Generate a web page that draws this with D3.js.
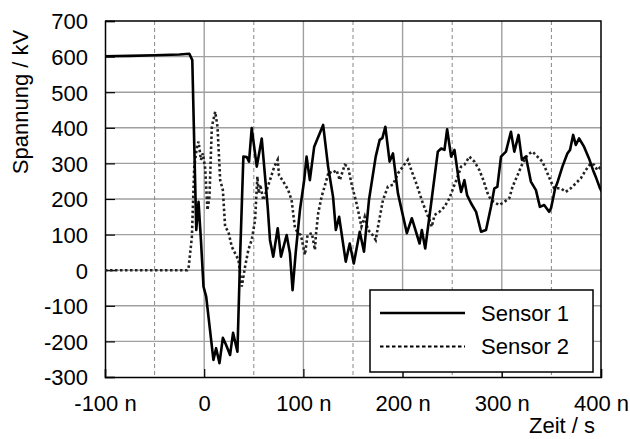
<!DOCTYPE html>
<html>
<head>
<meta charset="utf-8">
<script src="https://d3js.org/d3.v7.min.js"></script>
<style>
  body { margin: 0; background: #fff; }
  svg text { font-family: "Liberation Sans", Arial, sans-serif; font-size: 22px; fill: #000; }
</style>
</head>
<body>
<svg class="main" width="630" height="439"></svg>
<script>
// Zeit in ns, Spannung in kV
const sensor1 = [
  [-100, 601], [-75, 602], [-50, 604], [-25, 606], [-15, 608], [-12, 590], [-10, 350], [-8, 113],
  [-5.7, 192], [-3.3, 85], [-0.7, -46], [2, -74], [9.3, -252], [12, -219], [15.4, -261], [18.8, -190],
  [22.1, -210], [26.1, -238], [29.1, -176], [33.5, -229], [36.2, 38], [39.5, 319], [42.9, 318], [45.2, 305],
  [47.9, 399], [53, 291], [58, 370], [64, 178], [66.3, 85], [69.6, 38], [74.1, 118], [77.4, 38],
  [83.1, 99], [86.4, 48], [89.1, -56], [92.2, 48], [96.5, 169], [100.8, 253], [103.2, 319], [106.5, 253],
  [110.9, 347], [119.9, 408], [124.9, 291], [129.9, 206], [132.7, 113], [136, 150], [142.7, 24], [146.7, 75],
  [150.8, 19], [156.8, 108], [161.1, 52], [166.1, 197], [172.9, 319], [176.9, 366], [179.6, 371], [182.6, 403],
  [186.9, 305], [190.3, 328], [195.3, 216], [199.7, 161], [204.3, 104], [209.3, 146], [217.1, 75], [219.4, 113],
  [222.8, 61], [228.8, 188], [235.5, 333], [238.9, 342], [242.2, 338], [244.9, 396], [248.9, 319], [252.3, 338],
  [256.6, 253], [259, 220], [262.3, 253], [265, 211], [269, 188], [274.1, 164], [279.1, 108], [284.1, 113],
  [289.1, 178], [292.5, 230], [295.5, 234], [299.2, 319], [304.2, 333], [309.2, 389], [312.6, 333], [316.9, 380],
  [320.3, 310], [324.3, 319], [329.3, 249], [334.4, 225], [338.4, 178], [342.7, 183], [347.7, 164], [349.7, 175],
  [353.8, 230], [355.8, 244], [361.1, 291], [366.1, 328], [368.8, 338], [371.9, 380], [374.6, 352], [377.9, 370],
  [382.9, 347], [387.9, 314], [392, 281], [395.3, 258], [399, 230], [402, 215]
];

const sensor2 = [
  [-100, 0], [-50, 0], [-17, 0], [-15.8, 5], [-12.4, 94], [-10, 291], [-7.3, 347], [-5.7, 361],
  [-3.3, 310], [-1.3, 328], [1, 286], [3.3, 169], [5.3, 206], [7.7, 403], [11.1, 445], [13.4, 403],
  [16.1, 253], [18.8, 225], [21.1, 122], [24.4, 108], [27.8, 66], [34.5, 29], [37.9, -46], [41.2, 10],
  [44.5, 57], [47.9, 85], [51.3, 141], [53.6, 263], [55, 216], [56.5, 240], [59.6, 197], [63, 225],
  [66.3, 253], [70.7, 291], [74.1, 310], [75.4, 267], [79.7, 249], [84.7, 225], [88.1, 197], [91.5, 118],
  [94.8, 104], [97.5, 99], [101.5, 43], [104.2, 99], [108.5, 104], [111.6, 57], [112.6, 99], [114.9, 160],
  [118.3, 206], [122.3, 244], [125.6, 277], [128.9, 272], [133.4, 281], [136.7, 253], [141.7, 296], [145, 291],
  [148.4, 244], [153.5, 188], [156.1, 155], [158.5, 122], [161.8, 150], [165.1, 113], [168.5, 104], [172.9, 85],
  [175.2, 122], [180.2, 197], [185.2, 235], [190.3, 240], [195.3, 272], [200.3, 291], [205.3, 310], [209.3, 277],
  [213.8, 244], [217.1, 216], [220.4, 188], [223.8, 164], [227.1, 141], [229.4, 122], [232.2, 155], [237.2, 164],
  [242.2, 178], [247.2, 202], [251.6, 235], [255.6, 263], [259, 291], [262.3, 296], [267.3, 319], [272.4, 305],
  [277.4, 281], [281.4, 253], [285.7, 216], [289.1, 197], [294.2, 188], [297.5, 183], [302.5, 192], [307.5, 202],
  [310.9, 235], [315.9, 267], [320.9, 300], [325.9, 324], [330.9, 333], [335.9, 319], [341, 305], [346, 272],
  [349.5, 249], [352.8, 230], [359.5, 230], [364.5, 220], [369.5, 230], [374.6, 244], [379.6, 258], [384.6, 281],
  [389.6, 300], [393, 296], [396.3, 281], [399.7, 291], [402, 288]
];

const seriesNames = ["Sensor 1", "Sensor 2"];
const xTicks = [-100, 0, 100, 200, 300, 400];
const xMinorGrid = [-50, 50, 150, 250, 350];
const yTicks = [-300, -200, -100, 0, 100, 200, 300, 400, 500, 600, 700];

const svg = d3.select("svg.main");
const plotLeft = 105, plotRight = 601, plotTop = 21, plotBottom = 377;

const x = d3.scaleLinear().domain([-100, 400]).range([plotLeft, plotRight]);
const y = d3.scaleLinear().domain([-300, 700]).range([plotBottom, plotTop]);

// Gitterlinien
svg.append("g")
  .selectAll("line")
  .data(yTicks.slice(1, -1))
  .join("line")
  .attr("x1", plotLeft).attr("x2", plotRight)
  .attr("y1", d => y(d)).attr("y2", d => y(d))
  .attr("stroke", "#a0a0a0").attr("stroke-width", 1.4);

svg.append("g")
  .selectAll("line")
  .data(xTicks.slice(1, -1))
  .join("line")
  .attr("x1", d => x(d)).attr("x2", d => x(d))
  .attr("y1", plotTop).attr("y2", plotBottom)
  .attr("stroke", "#a0a0a0").attr("stroke-width", 1.4);

svg.append("g")
  .selectAll("line")
  .data(xMinorGrid)
  .join("line")
  .attr("x1", d => x(d)).attr("x2", d => x(d))
  .attr("y1", plotTop).attr("y2", plotBottom)
  .attr("stroke", "#888").attr("stroke-width", 1)
  .attr("stroke-dasharray", "4,3");

// Achsen
const yAxis = d3.axisLeft(y).tickValues(yTicks).tickSize(-10).tickPadding(17)
  .tickFormat(d => String(d));
svg.append("g")
  .attr("transform", `translate(${plotLeft},0)`)
  .call(yAxis)
  .call(g => g.select(".domain").attr("stroke", "#000").attr("stroke-width", 1.5))
  .call(g => g.selectAll(".tick line").attr("stroke", "#000").attr("stroke-width", 1.2))
  .call(g => g.selectAll(".tick text").attr("font-size", 22).attr("font-family", null).attr("dy", "0.36em"));

const xAxis = d3.axisBottom(x).tickValues(xTicks).tickSize(-8).tickPadding(18)
  .tickFormat(d => d === 0 ? "0" : d + " n");
svg.append("g")
  .attr("transform", `translate(0,${plotBottom})`)
  .call(xAxis)
  .call(g => g.select(".domain").attr("stroke", "#000").attr("stroke-width", 1.5))
  .call(g => g.selectAll(".tick line").attr("stroke", "#000").attr("stroke-width", 1.2))
  .call(g => g.selectAll(".tick text").attr("font-size", 22).attr("font-family", null).attr("dy", "0.71em"));

// Rahmen oben und rechts
svg.append("path")
  .attr("d", `M${plotLeft},${plotTop}H${plotRight}V${plotBottom}`)
  .attr("fill", "none").attr("stroke", "#000").attr("stroke-width", 1.5);

svg.append("clipPath").attr("id", "plot")
  .append("rect").attr("x", plotLeft).attr("y", plotTop)
  .attr("width", plotRight - plotLeft).attr("height", plotBottom - plotTop);

const line = d3.line()
  .x(d => x(d[0]))
  .y(d => y(d[1]));

svg.append("path")
  .attr("d", line(sensor2))
  .attr("clip-path", "url(#plot)")
  .attr("fill", "none").attr("stroke", "#222").attr("stroke-width", 2.6)
  .attr("stroke-dasharray", "2.5,2.5");

svg.append("path")
  .attr("d", line(sensor1))
  .attr("clip-path", "url(#plot)")
  .attr("fill", "none").attr("stroke", "#000").attr("stroke-width", 2.6)
  .attr("stroke-linejoin", "round");

// Legende
const legend = svg.append("g");
legend.append("rect")
  .attr("x", 370).attr("y", 290).attr("width", 223).attr("height", 82)
  .attr("fill", "#fff").attr("stroke", "#000").attr("stroke-width", 1.5);

const legendRows = legend.selectAll("g")
  .data(seriesNames)
  .join("g")
  .attr("transform", (d, i) => `translate(0,${313 + i * 33.5})`);

legendRows.append("line")
  .attr("x1", 380).attr("x2", 465)
  .attr("stroke", "#000")
  .attr("stroke-width", (d, i) => i === 0 ? 2.6 : 1.8)
  .attr("stroke-dasharray", (d, i) => i === 0 ? null : "3.5,2.5");

legendRows.append("text")
  .attr("x", 481).attr("y", 7.5)
  .text(d => d);

// Achsentitel
svg.append("text")
  .attr("transform", "translate(28,102) rotate(-90)")
  .attr("text-anchor", "middle")
  .text("Spannung / kV");

svg.append("text")
  .attr("x", 595).attr("y", 433)
  .attr("text-anchor", "end")
  .text("Zeit / s");
</script>
</body>
</html>
